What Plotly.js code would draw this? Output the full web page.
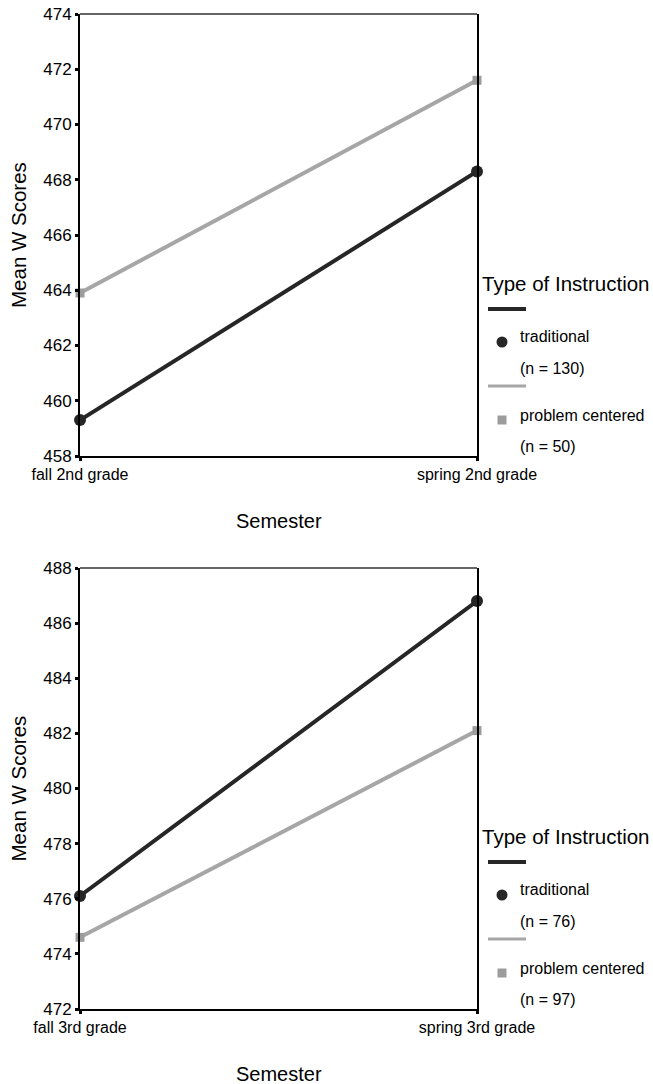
<!DOCTYPE html>
<html>
<head>
<meta charset="utf-8">
<script src="https://cdn.plot.ly/plotly-3.0.1.min.js"></script>
<style>
  html, body { margin: 0; padding: 0; background: #ffffff; }
  #chart { width: 653px; height: 1084px; }
</style>
</head>
<body>
<div id="chart"></div>
<script>
// Mean W scores by semester and type of instruction
const semestersGrade2 = ['fall 2nd grade', 'spring 2nd grade'];
const semestersGrade3 = ['fall 3rd grade', 'spring 3rd grade'];
const groups = ['traditional', 'problem centered'];
const nGrade2 = [130, 50];
const nGrade3 = [76, 97];
const traditionalGrade2 = [459.3, 468.3];
const problemGrade2 = [463.9, 471.6];
const traditionalGrade3 = [476.1, 486.8];
const problemGrade3 = [474.6, 482.1];
const yRangeGrade2 = [458, 474];
const yRangeGrade3 = [472, 488];

const W = 653, H = 1084;
const FONT = 'Liberation Sans, Arial, Helvetica, sans-serif';
const px = x => x / W;
const py = y => 1 - y / H;

// panel frames in pixels
const plotLeft = 80, plotRight = 477;
const panels = [
  { top: 14, bottom: 456 },
  { top: 568, bottom: 1009 }
];

const tradStyle = { color: '#262626', width: 4 };
const probStyle = { color: '#a6a6a6', width: 4 };

const traces = [
  { x: semestersGrade2, y: traditionalGrade2, xaxis: 'x', yaxis: 'y', name: groups[0],
    mode: 'lines+markers', line: tradStyle, cliponaxis: false,
    marker: { symbol: 'circle', size: 12, color: '#262626' } },
  { x: semestersGrade2, y: problemGrade2, xaxis: 'x', yaxis: 'y', name: groups[1],
    mode: 'lines+markers', line: probStyle, cliponaxis: false,
    marker: { symbol: 'square', size: 9, color: '#9c9c9c' } },
  { x: semestersGrade3, y: traditionalGrade3, xaxis: 'x2', yaxis: 'y2', name: groups[0],
    mode: 'lines+markers', line: tradStyle, cliponaxis: false,
    marker: { symbol: 'circle', size: 12, color: '#262626' } },
  { x: semestersGrade3, y: problemGrade3, xaxis: 'x2', yaxis: 'y2', name: groups[1],
    mode: 'lines+markers', line: probStyle, cliponaxis: false,
    marker: { symbol: 'square', size: 9, color: '#9c9c9c' } }
];

function xAxis(anchor) {
  return {
    type: 'category', range: [0, 1], anchor: anchor,
    domain: [px(plotLeft), px(plotRight)],
    showline: true, linewidth: 2, linecolor: '#000',
    ticks: 'outside', ticklen: 3, tickwidth: 3, tickcolor: '#000',
    showgrid: false, zeroline: false, fixedrange: true,
    tickfont: { family: FONT, size: 16, color: '#000' }
  };
}
function yAxis(anchor, p, range) {
  return {
    range: range, dtick: 2, anchor: anchor,
    domain: [py(p.bottom), py(p.top)],
    showline: true, linewidth: 2, linecolor: '#000', mirror: true,
    ticks: 'outside', ticklen: 3, tickwidth: 3, tickcolor: '#000',
    showgrid: false, zeroline: false, fixedrange: true,
    tickfont: { family: FONT, size: 17, color: '#000' }
  };
}

const annotations = [];
const shapes = [];

function addPanelDecor(p, xa, ya, counts) {
  // thin top border of the frame
  shapes.push({ type: 'line', xref: xa + ' domain', yref: ya + ' domain',
    x0: 0, x1: 1, y0: 1, y1: 1, line: { color: '#333', width: 1.3 } });

  // axis titles
  annotations.push({ text: 'Semester', xref: 'paper', yref: 'paper',
    x: px((plotLeft + plotRight) / 2), y: py(p.bottom + 65), xanchor: 'center', yanchor: 'middle',
    showarrow: false, font: { family: FONT, size: 20, color: '#000' } });
  annotations.push({ text: 'Mean W Scores', xref: 'paper', yref: 'paper', textangle: -90,
    x: px(18), y: py((p.top + p.bottom) / 2), xanchor: 'center', yanchor: 'middle',
    showarrow: false, font: { family: FONT, size: 20.5, color: '#000' } });

  // legend block
  const B = p.bottom;
  annotations.push({ text: 'Type of Instruction', xref: 'paper', yref: 'paper',
    x: px(480), y: py(B - 173), xanchor: 'left', yanchor: 'middle',
    showarrow: false, font: { family: FONT, size: 20.5, color: '#000' } });

  const rows = [
    { lineY: B - 147, textY: B - 120, nY: B - 88, markY: B - 114, style: tradStyle, sym: 'circle', mc: '#262626' },
    { lineY: B - 70, textY: B - 41, nY: B - 10, markY: B - 36, style: { color: '#a6a6a6', width: 3 }, sym: 'rect', mc: '#9c9c9c' }
  ];
  rows.forEach((r, i) => {
    shapes.push({ type: 'line', xref: 'paper', yref: 'paper',
      x0: px(488), x1: px(526), y0: py(r.lineY), y1: py(r.lineY),
      line: { color: r.style.color, width: r.style.width } });
    const s = r.sym === 'circle' ? 5.5 : 4.5;
    shapes.push({ type: r.sym, xref: 'paper', yref: 'paper',
      x0: px(502 - s), x1: px(502 + s), y0: py(r.markY + s), y1: py(r.markY - s),
      fillcolor: r.mc, line: { width: 0 } });
    annotations.push({ text: groups[i], xref: 'paper', yref: 'paper',
      x: px(518), y: py(r.textY), xanchor: 'left', yanchor: 'middle',
      showarrow: false, font: { family: FONT, size: 16, color: '#000' } });
    annotations.push({ text: '(n = ' + counts[i] + ')', xref: 'paper', yref: 'paper',
      x: px(518), y: py(r.nY), xanchor: 'left', yanchor: 'middle',
      showarrow: false, font: { family: FONT, size: 16, color: '#000' } });
  });
}

addPanelDecor(panels[0], 'x', 'y', nGrade2);
addPanelDecor(panels[1], 'x2', 'y2', nGrade3);

const layout = {
  width: W, height: H,
  margin: { l: 0, r: 0, t: 0, b: 0 },
  paper_bgcolor: '#fff', plot_bgcolor: '#fff',
  showlegend: false,
  font: { family: FONT, color: '#000' },
  xaxis: xAxis('y'),
  yaxis: yAxis('x', panels[0], yRangeGrade2),
  xaxis2: xAxis('y2'),
  yaxis2: yAxis('x2', panels[1], yRangeGrade3),
  shapes: shapes,
  annotations: annotations
};

Plotly.newPlot('chart', traces, layout, { displayModeBar: false, staticPlot: true });
</script>
</body>
</html>
